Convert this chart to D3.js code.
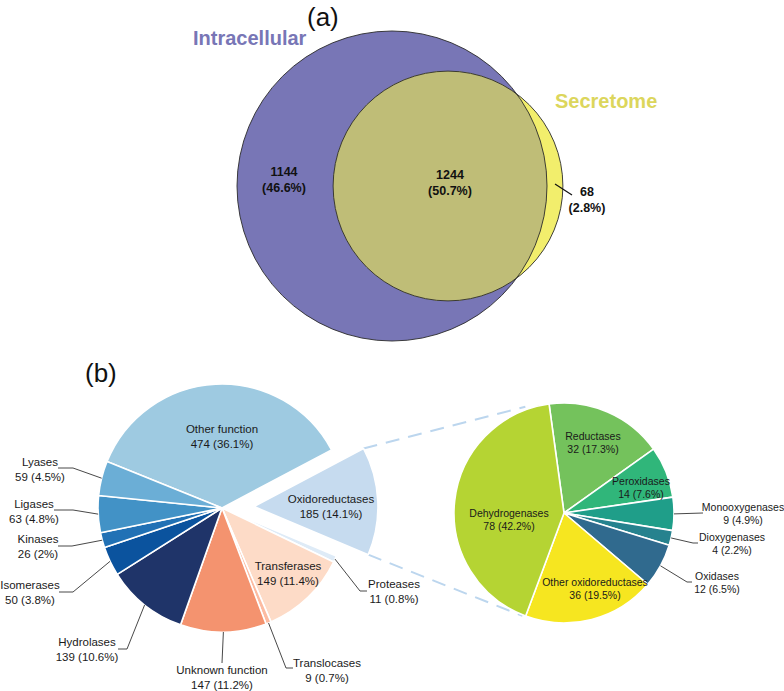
<!DOCTYPE html>
<html><head><meta charset="utf-8">
<script src="https://cdn.jsdelivr.net/npm/d3@7"></script>
<style>
html,body{margin:0;padding:0;background:#fff;}
svg{display:block;font-family:"Liberation Sans",Arial,Helvetica,sans-serif;}
</style></head>
<body>
<svg id="chart" width="784" height="691"></svg>
<script>
// ---------- DATA ----------
const vennSets = ["Intracellular", "Secretome"];
const vennCounts = [1144, 1244, 68];            // only intracellular, both, only secretome
const vennPercents = ["46.6%", "50.7%", "2.8%"];

const mainCategories = ["Other function","Oxidoreductases","Proteases","Transferases","Translocases",
  "Unknown function","Hydrolases","Isomerases","Kinases","Ligases","Lyases"];
const mainValues = [474,185,11,149,9,147,139,50,26,63,59];
const mainPercents = ["36.1%","14.1%","0.8%","11.4%","0.7%","11.2%","10.6%","3.8%","2%","4.8%","4.5%"];

const oxiCategories = ["Reductases","Peroxidases","Monooxygenases","Dioxygenases","Oxidases",
  "Other oxidoreductases","Dehydrogenases"];
const oxiValues = [32,14,9,4,12,36,78];
const oxiPercents = ["17.3%","7.6%","4.9%","2.2%","6.5%","19.5%","42.2%"];

// ---------- STYLE / LAYOUT ----------
const mainColors = ["#9ecae1","#c6dbef","#deebf7","#fddbc7","#fcbba1","#f4936f","#1f3469","#0b539e","#2171b5","#4292c6","#6baed6"];
const oxiColors = ["#74c25c","#30b67a","#1f9e89","#26828e","#306a8e","#f6e620","#b5d433"];
const deg = Math.PI/180;

const svg = d3.select("#chart");

// ---------- (a) VENN ----------
svg.append("text").attr("x",307).attr("y",26).attr("font-size",26).attr("fill","#111").text("(a)");

const sizeA = vennCounts[0] + vennCounts[1];
const sizeB = vennCounts[1] + vennCounts[2];
const rScale = d3.scaleSqrt().domain([0, sizeA]).range([0, 155]);
const RA = rScale(sizeA), RB = rScale(sizeB);
function lensArea(d, r1, r2){
  if (d >= r1 + r2) return 0;
  if (d <= Math.abs(r1 - r2)) return Math.PI*Math.min(r1,r2)**2;
  const a1 = Math.acos((d*d + r1*r1 - r2*r2)/(2*d*r1));
  const a2 = Math.acos((d*d + r2*r2 - r1*r1)/(2*d*r2));
  return r1*r1*(a1 - Math.sin(2*a1)/2) + r2*r2*(a2 - Math.sin(2*a2)/2);
}
const targetOverlap = Math.PI*RA*RA * vennCounts[1]/sizeA;
let lo = Math.abs(RA-RB), hi = RA+RB;
for (let i=0;i<60;i++){ const m=(lo+hi)/2; if (lensArea(m,RA,RB) > targetOverlap) lo=m; else hi=m; }
const dist = (lo+hi)/2;
const cA = [392,186], cB = [392+dist,186];

const defs = svg.append("defs");
defs.append("clipPath").attr("id","clipA").append("circle").attr("cx",cA[0]).attr("cy",cA[1]).attr("r",RA);

svg.append("circle").attr("cx",cA[0]).attr("cy",cA[1]).attr("r",RA).attr("fill","#7876b6");
svg.append("circle").attr("cx",cB[0]).attr("cy",cB[1]).attr("r",RB).attr("fill","#f2ee6c");
svg.append("circle").attr("cx",cB[0]).attr("cy",cB[1]).attr("r",RB).attr("fill","#bfbd77").attr("clip-path","url(#clipA)");
svg.append("circle").attr("cx",cA[0]).attr("cy",cA[1]).attr("r",RA).attr("fill","none").attr("stroke","#2a2a2a").attr("stroke-width",0.9);
svg.append("circle").attr("cx",cB[0]).attr("cy",cB[1]).attr("r",RB).attr("fill","none").attr("stroke","#2a2a2a").attr("stroke-width",0.9);

svg.append("text").attr("x",193).attr("y",45).attr("font-size",20).attr("font-weight","bold").attr("fill","#7876b6").text(vennSets[0]);
svg.append("text").attr("x",555).attr("y",108).attr("font-size",20).attr("font-weight","bold").attr("fill","#dcd65c").text(vennSets[1]);

const vennLabelPos = [[284,176],[450,179],[587,196]];
vennCounts.forEach((v,i)=>{
  const t = svg.append("text").attr("text-anchor","middle").attr("font-size",12.5).attr("font-weight","bold").attr("fill","#111");
  t.append("tspan").attr("x",vennLabelPos[i][0]).attr("y",vennLabelPos[i][1]).text(v);
  t.append("tspan").attr("x",vennLabelPos[i][0]).attr("y",vennLabelPos[i][1]+16).text("("+vennPercents[i]+")");
});
svg.append("line").attr("x1",555).attr("y1",184).attr("x2",572).attr("y2",195).attr("stroke","#111").attr("stroke-width",1.2);

// ---------- (b) PIES ----------
svg.append("text").attr("x",85).attr("y",382).attr("font-size",26).attr("fill","#111").text("(b)");

const mainC = [222,508], mainR = 124;
const oxiC = [564,513], oxiR = 110;
const explodeIdx = 1, explodeDist = 32;

const mainPie = d3.pie().sort(null).startAngle(-68*deg).endAngle(-68*deg + 2*Math.PI)(mainValues);
const oxiPie = d3.pie().sort(null).startAngle(-7.8*deg).endAngle(-7.8*deg + 2*Math.PI)(oxiValues);
const mainArc = d3.arc().innerRadius(0).outerRadius(mainR);
const oxiArc = d3.arc().innerRadius(0).outerRadius(oxiR);

function polar(c, r, a){ return [c[0] + r*Math.sin(a), c[1] - r*Math.cos(a)]; }

// dashed connectors
const ex = mainPie[explodeIdx];
const exMid = (ex.startAngle + ex.endAngle)/2;
const exC = polar(mainC, explodeDist, exMid);
const connectors = [
  [polar(exC, mainR, ex.startAngle), polar(oxiC, 113, -20*deg)],
  [polar(exC, mainR, ex.endAngle), polar(oxiC, 111, 202*deg)]
];
connectors.forEach(p=>{
  svg.append("line").attr("x1",p[0][0]).attr("y1",p[0][1]).attr("x2",p[1][0]).attr("y2",p[1][1])
    .attr("stroke","#bcd6ee").attr("stroke-width",2).attr("stroke-dasharray","14,9");
});

const gMain = svg.append("g");
gMain.selectAll("path").data(mainPie).join("path")
  .attr("d", mainArc)
  .attr("transform", (d,i)=>{
    const c = i===explodeIdx ? exC : mainC;
    return `translate(${c[0]},${c[1]})`;
  })
  .attr("fill",(d,i)=>mainColors[i])
  .attr("stroke","#fff").attr("stroke-width",1.6).attr("stroke-linejoin","round");

const gOxi = svg.append("g").attr("transform",`translate(${oxiC[0]},${oxiC[1]})`);
gOxi.selectAll("path").data(oxiPie).join("path")
  .attr("d", oxiArc)
  .attr("fill",(d,i)=>oxiColors[i])
  .attr("stroke","#fff").attr("stroke-width",1.6).attr("stroke-linejoin","round");

// label layout (positions only)
const mainLabelLayout = {
  "Other function":   {x:222, y:433},
  "Oxidoreductases":  {x:331, y:503},
  "Transferases":     {x:288, y:570},
  "Lyases":           {x:40,  y:466, leader:[[73,468],[58,468]]},
  "Ligases":          {x:34,  y:508, leader:[[73,510],[54,510]]},
  "Kinases":          {x:38,  y:543, leader:[[72,546],[58,546]]},
  "Isomerases":       {x:30,  y:589, leader:[[73,592],[59,592]]},
  "Hydrolases":       {x:87,  y:646, leader:[[127,649],[118,649]]},
  "Unknown function": {x:222, y:674, leader:[[222,663]]},
  "Translocases":     {x:327, y:667, leader:[[286,668],[293,668]]},
  "Proteases":        {x:394, y:588, leader:[[360,591],[367,591]]}
};
const oxiLabelLayout = {
  "Reductases":            {x:593, y:440},
  "Peroxidases":           {x:641, y:485},
  "Dehydrogenases":        {x:509, y:517},
  "Other oxidoreductases": {x:595, y:586},
  "Monooxygenases":        {x:743, y:511, leader:[[703,513]]},
  "Dioxygenases":          {x:732, y:541, leader:[[693,543],[698,543]]},
  "Oxidases":              {x:717, y:580, leader:[[687,582],[692,582]]}
};

function drawLabels(pie, cats, vals, pcts, layout, center, radius, fs, lh){
  pie.forEach((d,i)=>{
    const L = layout[cats[i]];
    if (!L) return;
    if (L.leader){
      const mid = (d.startAngle + d.endAngle)/2;
      const start = polar(center, radius, mid);
      const pts = [start].concat(L.leader);
      svg.append("path").attr("d", d3.line()(pts)).attr("fill","none")
        .attr("stroke","#333").attr("stroke-width",0.9);
    }
    const t = svg.append("text").attr("text-anchor","middle").attr("font-size",fs).attr("fill","#1a1a1a");
    t.append("tspan").attr("x",L.x).attr("y",L.y).text(cats[i]);
    t.append("tspan").attr("x",L.x).attr("y",L.y+lh).text(vals[i]+" ("+pcts[i]+")");
  });
}
drawLabels(mainPie, mainCategories, mainValues, mainPercents, mainLabelLayout, mainC, mainR, 11.5, 14.6);
drawLabels(oxiPie, oxiCategories, oxiValues, oxiPercents, oxiLabelLayout, oxiC, oxiR, 10.5, 13);
</script>
</body></html>
